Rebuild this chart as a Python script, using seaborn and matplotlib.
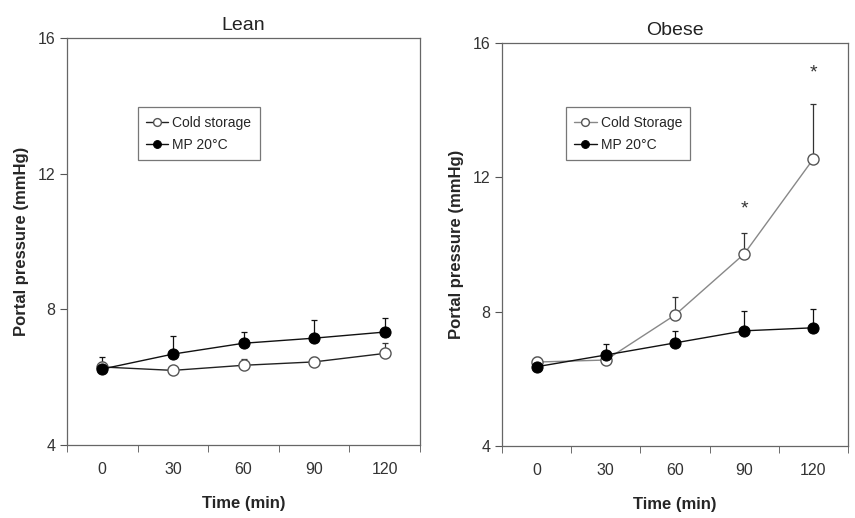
import numpy as np
import pandas as pd
import matplotlib.pyplot as plt
import seaborn as sns

times = [0, 30, 60, 90, 120]

lean_cold = [6.30, 6.20, 6.35, 6.45, 6.70]
lean_cold_err = [0.15, 0.05, 0.18, 0.15, 0.30]
lean_mp = [6.24, 6.68, 7.00, 7.15, 7.33]
lean_mp_err = [0.36, 0.52, 0.33, 0.55, 0.40]

obese_cold = [6.50, 6.56, 7.90, 9.72, 12.55]
obese_cold_err = [0.15, 0.05, 0.54, 0.63, 1.63]
obese_mp = [6.36, 6.71, 7.07, 7.43, 7.52]
obese_mp_err = [0.14, 0.33, 0.36, 0.59, 0.56]

star_times = [90, 120]
star_heights = [11.05, 15.1]

sns.set_style("white")
plt.rcParams["font.family"] = ["Liberation Sans", "DejaVu Sans"]

fig = plt.figure(figsize=(8.55, 5.18), dpi=100)
W, H = 855, 518
ax1 = fig.add_axes([67 / W, (H - 445) / H, (420 - 67) / W, (445 - 38) / H])
ax2 = fig.add_axes([502 / W, (H - 446) / H, (848 - 502) / W, (446 - 43) / H])


def draw(ax, title, cold, cold_err, mp, mp_err, cold_label, cold_line):
    df = pd.DataFrame({"time": times, "cold": cold, "mp": mp})
    ax.errorbar(times, cold, yerr=[np.zeros(len(cold)), cold_err], fmt="none",
                ecolor="#333333", elinewidth=0.9, capsize=2, capthick=0.9, zorder=2)
    ax.errorbar(times, mp, yerr=[np.zeros(len(mp)), mp_err], fmt="none",
                ecolor="#111111", elinewidth=0.9, capsize=2, capthick=0.9, zorder=2)
    sns.lineplot(data=df, x="time", y="cold", ax=ax, color=cold_line, lw=1.0,
                 marker="o", markersize=8, markerfacecolor="white",
                 markeredgecolor="#555555", markeredgewidth=1.0,
                 label=cold_label, zorder=3)
    sns.lineplot(data=df, x="time", y="mp", ax=ax, color="#111111", lw=1.0,
                 marker="o", markersize=8, markerfacecolor="black",
                 markeredgecolor="black", label="MP 20°C", zorder=4)
    ax.set_xlim(-15, 135)
    ax.set_ylim(4, 16)
    ax.set_xticks(times)
    ax.set_xticks([-15, 15, 45, 75, 105, 135], minor=True)
    ax.set_yticks([4, 8, 12, 16])
    ax.tick_params(axis="both", which="major", labelsize=11.5, colors="#333333")
    ax.tick_params(axis="x", which="major", length=0, pad=12)
    ax.tick_params(axis="x", which="minor", bottom=True, length=5, color="#555555")
    ax.tick_params(axis="y", which="major", left=True, length=5, color="#555555")
    for s in ax.spines.values():
        s.set_color("#666666")
        s.set_linewidth(0.9)
    ax.set_title(title, fontsize=14, color="#222222", pad=6)
    ax.set_xlabel("Time (min)", fontsize=12, fontweight="bold", labelpad=14)
    ax.set_ylabel("Portal pressure (mmHg)", fontsize=12, fontweight="bold", labelpad=6)


draw(ax1, "Lean", lean_cold, lean_cold_err, lean_mp, lean_mp_err,
     "Cold storage", "#222222")
draw(ax2, "Obese", obese_cold, obese_cold_err, obese_mp, obese_mp_err,
     "Cold Storage", "#888888")

for t, h in zip(star_times, star_heights):
    ax2.text(t, h, "*", ha="center", va="center", fontsize=14, color="#333333")

for ax, anchor in [(ax1, (0.2, 0.83)), (ax2, (0.185, 0.84))]:
    leg = ax.legend(loc="upper left", bbox_to_anchor=anchor, fontsize=10,
                    frameon=True, fancybox=False, edgecolor="#555555",
                    handlelength=1.6, handletextpad=0.3, borderpad=0.6,
                    labelspacing=0.6, markerscale=0.7, borderaxespad=0)
    leg.get_frame().set_linewidth(0.9)

fig.savefig("out.png", dpi=100)
